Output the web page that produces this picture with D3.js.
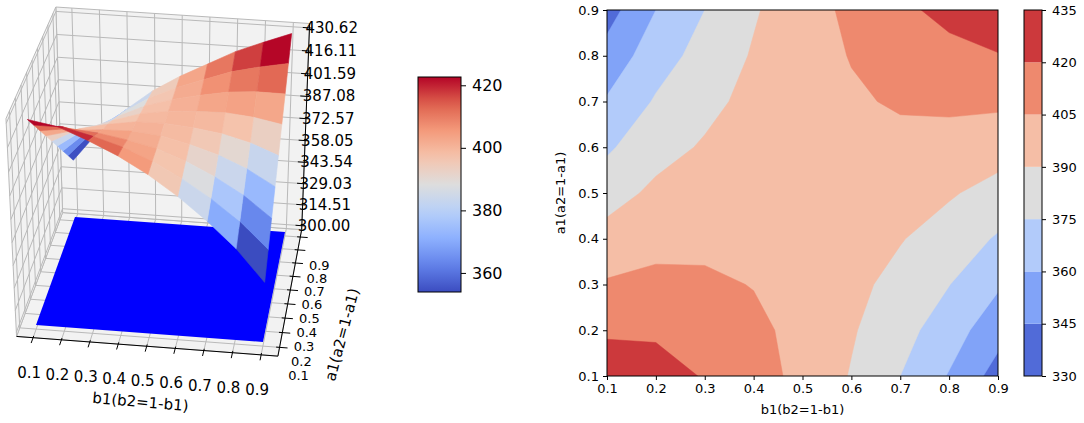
<!DOCTYPE html>
<html lang="en">
<head>
<meta charset="UTF-8">
<title>Surface and contour of a1 / b1</title>
<script src="https://d3js.org/d3.v7.min.js"></script>
<style>
  * { margin: 0; padding: 0; }
  body { background: #fff; }
  svg { display: block; font-family: "DejaVu Sans", sans-serif; }
</style>
</head>
<body>
<svg id="chart" width="1084" height="423"></svg>
<script>
// ---- data ----
const b1Values = [0.1, 0.2, 0.3, 0.4, 0.5, 0.6, 0.7, 0.8, 0.9];
const a1Values = [0.1, 0.2, 0.3, 0.4, 0.5, 0.6, 0.7, 0.8, 0.9];
// one row per a1 value, one column per b1 value
const zRows = [
  [429.0, 426.0, 419.0, 411.0, 401.0, 389.0, 375.0, 359.0, 339.0],
  [417.8, 417.8, 413.5, 408.2, 400.8, 391.4, 380.3, 367.1, 350.5],
  [406.5, 409.0, 407.5, 404.5, 400.5, 393.8, 385.5, 375.3, 361.9],
  [395.3, 400.0, 401.5, 402.0, 400.3, 396.1, 390.8, 383.4, 373.4],
  [384.0, 393.0, 397.0, 399.8, 400.0, 398.5, 396.0, 391.5, 384.8],
  [372.8, 384.8, 391.5, 397.0, 399.8, 400.9, 401.3, 399.6, 396.3],
  [361.5, 376.5, 386.0, 394.1, 399.5, 403.3, 406.5, 407.8, 407.7],
  [350.3, 368.3, 380.5, 391.3, 399.3, 405.6, 411.8, 415.9, 419.2],
  [339.0, 360.0, 375.0, 388.5, 399.0, 408.0, 417.0, 424.0, 430.6]
];
const zTicks = [300.00, 314.51, 329.03, 343.54, 358.05, 372.57, 387.08, 401.59, 416.11, 430.62];
const floorZ = 300;
const surfBarTicks = [360, 380, 400, 420];
const contourLevels = [330, 345, 360, 375, 390, 405, 420, 435];
const axisTicks = [0.1, 0.2, 0.3, 0.4, 0.5, 0.6, 0.7, 0.8, 0.9];

const svg = d3.select("#chart");

// matplotlib coolwarm, sampled
const coolwarm = d3.scaleLinear()
  .domain(d3.range(9).map(i => i / 8))
  .range(["#3b4cc0", "#6282ea", "#8db0fe", "#b8d0f9", "#dddddd", "#f5c4ad", "#f49a7b", "#de604d", "#b40426"])
  .interpolate(d3.interpolateRgb)
  .clamp(true);

// ================= 3D surface =================
const sScale = d3.scaleLinear().domain([0.1, 0.9]).range([0, 1]);
const tScale = d3.scaleLinear().domain([0.1, 0.9]).range([0, 1]);
const zScale = d3.scaleLinear().domain([300, 430.62]).range([0, 1]);

// camera: where the corners of the data floor land on screen, plus two top corners
const baseQuad = [[36, 325], [263, 342], [285, 232], [75, 217]];
const topBackRight = [291, 33];
const topFrontLeft = [28, 120];

function squareToQuad(q) {
  const [[x0, y0], [x1, y1], [x2, y2], [x3, y3]] = q;
  const dx1 = x1 - x2, dx2 = x3 - x2, dx3 = x0 - x1 + x2 - x3;
  const dy1 = y1 - y2, dy2 = y3 - y2, dy3 = y0 - y1 + y2 - y3;
  const den = dx1 * dy2 - dx2 * dy1;
  const g = (dx3 * dy2 - dx2 * dy3) / den;
  const h = (dx1 * dy3 - dx3 * dy1) / den;
  return { a: x1 - x0 + g * x1, b: x3 - x0 + h * x3, c: x0,
           d: y1 - y0 + g * y1, e: y3 - y0 + h * y3, f: y0, g: g, h: h };
}
function solve3(M, v) {
  const A = M.map((row, i) => row.concat([v[i]]));
  for (let c = 0; c < 3; c++) {
    let piv = c;
    for (let r = c + 1; r < 3; r++) if (Math.abs(A[r][c]) > Math.abs(A[piv][c])) piv = r;
    [A[c], A[piv]] = [A[piv], A[c]];
    for (let r = 0; r < 3; r++) {
      if (r === c) continue;
      const k = A[r][c] / A[c][c];
      for (let k2 = c; k2 < 4; k2++) A[r][k2] -= k * A[c][k2];
    }
  }
  return [A[0][3] / A[0][0], A[1][3] / A[1][1], A[2][3] / A[2][2]];
}
const H = squareToQuad(baseQuad);
// vertical column of the camera matrix, least squares on the two top corners
const camera = (function() {
  const pts = [
    { s: 1, t: 1, z: 1, uv: topBackRight },
    { s: 0, t: 0, z: zScale(zRows[0][0]), uv: topFrontLeft }
  ];
  const rows = [], rhs = [], wts = [];
  pts.forEach(o => {
    const den = H.g * o.s + H.h * o.t + 1;
    const nu = H.a * o.s + H.b * o.t + H.c;
    const nv = H.d * o.s + H.e * o.t + H.f;
    const [U, V] = o.uv;
    rows.push([1, 0, -U]); rhs.push((U * den - nu) / o.z); wts.push(1);
    rows.push([0, 1, -V]); rhs.push((V * den - nv) / o.z); wts.push(2);
  });
  const N = [[0, 0, 0], [0, 0, 0], [0, 0, 0]], bv = [0, 0, 0];
  rows.forEach((r, k) => {
    const w2 = wts[k] * wts[k];
    for (let i = 0; i < 3; i++) {
      bv[i] += w2 * r[i] * rhs[k];
      for (let j = 0; j < 3; j++) N[i][j] += w2 * r[i] * r[j];
    }
  });
  const [p, q, r] = solve3(N, bv);
  return { p: p, q: q, r: r };
})();
function depth(s, t, z) { return H.g * s + H.h * t + 1 + camera.r * z; }
function proj(s, t, z) {
  const w = depth(s, t, z);
  return [(H.a * s + H.b * t + H.c + camera.p * z) / w,
          (H.d * s + H.e * t + H.f + camera.q * z) / w];
}

const sLo = -0.073, sHi = 1.073, tLo = -0.073, tHi = 1.073, zLo = -0.021, zHi = 1.021;
const line3 = d3.line();
const g3 = svg.append("g");
const gridColor = "#b9b9b9";

// panes
const panes = [
  [[sLo, tLo, zLo], [sHi, tLo, zLo], [sHi, tHi, zLo], [sLo, tHi, zLo]],
  [[sLo, tHi, zLo], [sHi, tHi, zLo], [sHi, tHi, zHi], [sLo, tHi, zHi]],
  [[sLo, tLo, zLo], [sLo, tHi, zLo], [sLo, tHi, zHi], [sLo, tLo, zHi]]
];
g3.selectAll("path.pane").data(panes).join("path")
  .attr("class", "pane")
  .attr("d", d => line3(d.map(p => proj(...p))) + "Z")
  .attr("fill", "#f2f2f2")
  .attr("stroke", gridColor)
  .attr("stroke-width", 1);

// grid lines
const gridSegs = [];
axisTicks.forEach(v => {
  const s = sScale(v), t = tScale(v);
  gridSegs.push([[s, tLo, zLo], [s, tHi, zLo]]);   // floor, constant b
  gridSegs.push([[s, tHi, zLo], [s, tHi, zHi]]);   // back, constant b
  gridSegs.push([[sLo, t, zLo], [sHi, t, zLo]]);   // floor, constant a
  gridSegs.push([[sLo, t, zLo], [sLo, t, zHi]]);   // left, constant a
});
zTicks.forEach(v => {
  const z = zScale(v);
  gridSegs.push([[sLo, tHi, z], [sHi, tHi, z]]);
  gridSegs.push([[sLo, tLo, z], [sLo, tHi, z]]);
});
g3.selectAll("path.grid").data(gridSegs).join("path")
  .attr("class", "grid")
  .attr("d", d => line3(d.map(p => proj(...p))))
  .attr("fill", "none")
  .attr("stroke", gridColor)
  .attr("stroke-width", 1);

// axis lines
const axisSegs = [
  [[sLo, tLo, zLo], [sHi, tLo, zLo]],
  [[sHi, tLo, zLo], [sHi, tHi, zLo]],
  [[sHi, tHi, zLo], [sHi, tHi, zHi]]
];
const tickSegs = [];
axisTicks.forEach(v => {
  tickSegs.push([[sScale(v), tLo + 0.015, zLo], [sScale(v), tLo - 0.045, zLo]]);
  tickSegs.push([[sHi - 0.015, tScale(v), zLo], [sHi + 0.035, tScale(v), zLo]]);
});
zTicks.forEach(v => {
  tickSegs.push([[sHi - 0.03, tHi, zScale(v)], [sHi + 0.012, tHi, zScale(v)]]);
});
g3.selectAll("path.axis").data(axisSegs.concat(tickSegs)).join("path")
  .attr("class", "axis")
  .attr("d", d => line3(d.map(p => proj(...p))))
  .attr("fill", "none")
  .attr("stroke", "#000")
  .attr("stroke-width", 1);

// tick labels
const lab3 = g3.append("g").attr("font-size", 15).attr("fill", "#000");
lab3.selectAll("text.bt").data(axisTicks).join("text")
  .attr("class", "bt")
  .attr("text-anchor", "middle")
  .attr("x", d => proj(sScale(d), tLo, zLo)[0] - 4)
  .attr("y", d => proj(sScale(d), tLo, zLo)[1] + 40)
  .text(d => d.toFixed(1));
lab3.selectAll("text.at").data(axisTicks).join("text")
  .attr("class", "at")
  .attr("font-size", 13)
  .attr("text-anchor", "middle")
  .attr("x", d => proj(sHi, tScale(d), zLo)[0] + 19)
  .attr("y", d => proj(sHi, tScale(d), zLo)[1] + 33)
  .text(d => d.toFixed(1));
lab3.selectAll("text.zt").data(zTicks).join("text")
  .attr("class", "zt")
  .attr("x", d => proj(sHi, tHi, zScale(d))[0] - 4)
  .attr("y", d => proj(sHi, tHi, zScale(d))[1] + 5)
  .text(d => d.toFixed(2));
lab3.append("text")
  .attr("text-anchor", "middle")
  .attr("transform", "translate(140,407) rotate(5)")
  .text("b1(b2=1-b1)");
lab3.append("text")
  .attr("text-anchor", "middle")
  .attr("transform", "translate(347,336) rotate(-75)")
  .text("a1(a2=1-a1)");

// flat plane at z = 300
const plane = [[0, 0], [1, 0], [1, 1], [0, 1]].map(([s, t]) => proj(s, t, zScale(floorZ)));
g3.append("path")
  .attr("d", line3(plane) + "Z")
  .attr("fill", "#0000ff");

// surface facets
const facets = [];
for (let j = 0; j < a1Values.length - 1; j++) {
  for (let i = 0; i < b1Values.length - 1; i++) {
    const corners = [[i, j], [i + 1, j], [i + 1, j + 1], [i, j + 1]];
    const pts = corners.map(([ci, cj]) => [sScale(b1Values[ci]), tScale(a1Values[cj]), zScale(zRows[cj][ci])]);
    const avg = d3.mean(corners, ([ci, cj]) => zRows[cj][ci]);
    const c = [d3.mean(pts, p => p[0]), d3.mean(pts, p => p[1]), d3.mean(pts, p => p[2])];
    facets.push({ pts: pts, avg: avg, w: depth(...c) });
  }
}
const facetExtent = d3.extent(facets, f => f.avg);
const facetNorm = d3.scaleLinear().domain(facetExtent).range([0, 1]);
facets.sort((x, y) => y.w - x.w);
g3.selectAll("path.facet").data(facets).join("path")
  .attr("class", "facet")
  .attr("d", f => line3(f.pts.map(p => proj(...p))) + "Z")
  .attr("fill", f => coolwarm(facetNorm(f.avg)))
  .attr("stroke", f => coolwarm(facetNorm(f.avg)))
  .attr("stroke-width", 0.6)
  .attr("stroke-linejoin", "round");

// ---- colour bar of the surface ----
const defs = svg.append("defs");
const grad = defs.append("linearGradient").attr("id", "surfGrad")
  .attr("x1", 0).attr("y1", 1).attr("x2", 0).attr("y2", 0);
d3.range(0, 1.0001, 0.05).forEach(o => {
  grad.append("stop").attr("offset", o).attr("stop-color", coolwarm(o));
});
const bar1 = { x: 418, y: 77, w: 43, h: 215 };
const bar1Scale = d3.scaleLinear().domain(facetExtent).range([bar1.y + bar1.h, bar1.y]);
svg.append("rect")
  .attr("x", bar1.x).attr("y", bar1.y).attr("width", bar1.w).attr("height", bar1.h)
  .attr("fill", "url(#surfGrad)").attr("stroke", "#000").attr("stroke-width", 1);
svg.append("g")
  .attr("transform", `translate(${bar1.x + bar1.w},0)`)
  .call(d3.axisRight(bar1Scale).tickValues(surfBarTicks).tickSize(5).tickPadding(6))
  .call(g => g.select(".domain").remove())
  .call(g => g.selectAll("text").attr("font-size", 16).attr("font-family", "DejaVu Sans"));

// ================= contour =================
const plot = { x: 607, y: 10, w: 391, h: 366 };
const xScale = d3.scaleLinear().domain([0.1, 0.9]).range([plot.x, plot.x + plot.w]);
const yScale = d3.scaleLinear().domain([0.1, 0.9]).range([plot.y + plot.h, plot.y]);
const nx = b1Values.length, ny = a1Values.length;
const gridToB = d3.scaleLinear().domain([0.5, nx - 0.5]).range([b1Values[0], b1Values[nx - 1]]);
const gridToA = d3.scaleLinear().domain([0.5, ny - 0.5]).range([a1Values[0], a1Values[ny - 1]]);
const contourPath = d3.geoPath(d3.geoTransform({
  point: function(x, y) { this.stream.point(xScale(gridToB(x)), yScale(gridToA(y))); }
}));
const bands = d3.contours()
  .size([nx, ny])
  .thresholds(contourLevels.slice(0, -1))
  (zRows.flat());
const levelNorm = d3.scaleLinear().domain(d3.extent(contourLevels)).range([0, 1]);
const bandColor = i => coolwarm(levelNorm((contourLevels[i] + contourLevels[i + 1]) / 2));

defs.append("clipPath").attr("id", "plotClip")
  .append("rect").attr("x", plot.x).attr("y", plot.y).attr("width", plot.w).attr("height", plot.h);
svg.append("g").attr("clip-path", "url(#plotClip)")
  .selectAll("path").data(bands).join("path")
  .attr("d", contourPath)
  .attr("fill", (d, i) => bandColor(i))
  .attr("stroke", (d, i) => bandColor(i))
  .attr("stroke-width", 0.5);

svg.append("rect")
  .attr("x", plot.x).attr("y", plot.y).attr("width", plot.w).attr("height", plot.h)
  .attr("fill", "none").attr("stroke", "#000").attr("stroke-width", 1);

const styleAxis = g => {
  g.select(".domain").remove();
  g.selectAll("text").attr("font-size", 13).attr("font-family", "DejaVu Sans").attr("fill", "#000");
  g.selectAll("line").attr("stroke", "#000");
};
svg.append("g")
  .attr("transform", `translate(0,${plot.y + plot.h})`)
  .call(d3.axisBottom(xScale).tickValues(axisTicks).tickFormat(d3.format(".1f")).tickSize(4).tickPadding(4))
  .call(styleAxis);
svg.append("g")
  .attr("transform", `translate(${plot.x},0)`)
  .call(d3.axisLeft(yScale).tickValues(axisTicks).tickFormat(d3.format(".1f")).tickSize(4).tickPadding(4))
  .call(styleAxis);
svg.append("text")
  .attr("x", plot.x + plot.w / 2).attr("y", 414)
  .attr("text-anchor", "middle").attr("font-size", 13)
  .text("b1(b2=1-b1)");
svg.append("text")
  .attr("transform", `translate(565,${plot.y + plot.h / 2}) rotate(-90)`)
  .attr("text-anchor", "middle").attr("font-size", 13)
  .text("a1(a2=1-a1)");

// ---- colour bar of the contour ----
const bar2 = { x: 1024, y: 10, w: 18, h: 366 };
const bar2Scale = d3.scaleLinear().domain(d3.extent(contourLevels)).range([bar2.y + bar2.h, bar2.y]);
svg.append("g").selectAll("rect")
  .data(d3.range(contourLevels.length - 1))
  .join("rect")
  .attr("x", bar2.x)
  .attr("y", i => bar2Scale(contourLevels[i + 1]))
  .attr("width", bar2.w)
  .attr("height", i => bar2Scale(contourLevels[i]) - bar2Scale(contourLevels[i + 1]))
  .attr("fill", i => bandColor(i));
svg.append("rect")
  .attr("x", bar2.x).attr("y", bar2.y).attr("width", bar2.w).attr("height", bar2.h)
  .attr("fill", "none").attr("stroke", "#000").attr("stroke-width", 1);
svg.append("g")
  .attr("transform", `translate(${bar2.x + bar2.w},0)`)
  .call(d3.axisRight(bar2Scale).tickValues(contourLevels).tickSize(4).tickPadding(6))
  .call(styleAxis);
</script>
</body>
</html>
